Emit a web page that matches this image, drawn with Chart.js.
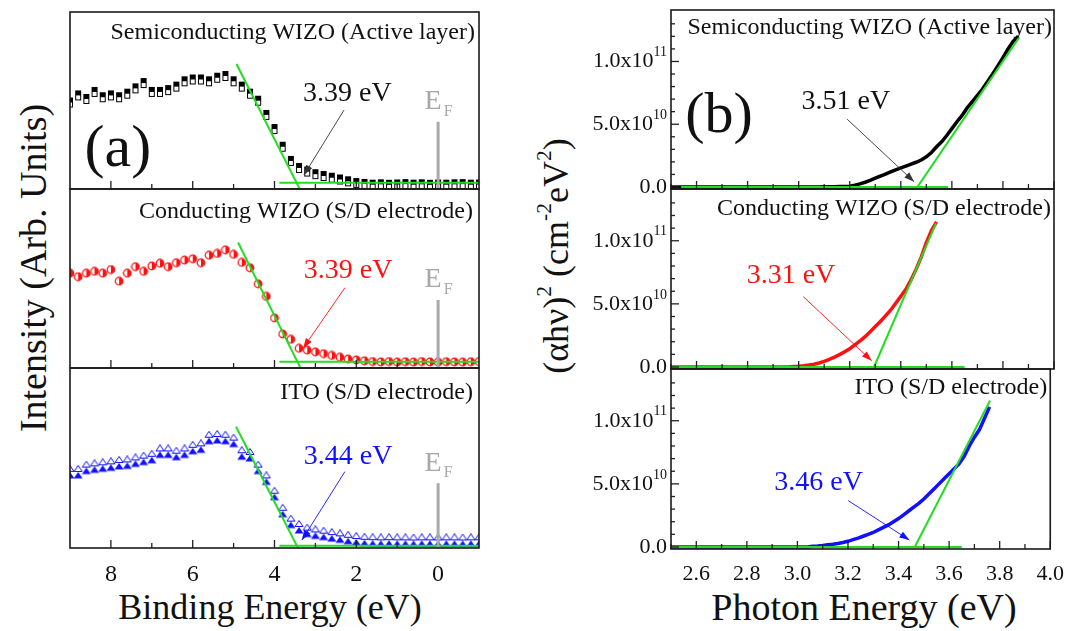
<!DOCTYPE html>
<html>
<head>
<meta charset="utf-8">
<script src="https://cdn.jsdelivr.net/npm/chart.js@4.4.1/dist/chart.umd.min.js"></script>
<style>
  body { margin: 0; background: #fff; font-family: "Liberation Serif", "Times New Roman", serif; }
  #fig { position: relative; width: 1071px; height: 631px; overflow: hidden; }
  .pane { position: absolute; }
  .lbl { position: absolute; white-space: nowrap; color: #111; transform: translate(-50%, -50%); line-height: 1; }
  .rot { transform: translate(-50%, -50%) rotate(-90deg); }
  .lbl sup { font-size: 60%; vertical-align: 0.75em; }
</style>
</head>
<body>
<div id="fig">
  <div class="lbl rot" style="left:33px;top:268px;font-size:38px">Intensity (Arb. Units)</div>
  <div class="lbl rot" style="left:554px;top:256px;font-size:36px">(αhν)<sup>2</sup> (cm<sup>-2</sup>eV<sup>2</sup>)</div>
  <div class="lbl" style="left:270px;top:607px;font-size:36px">Binding Energy (eV)</div>
  <div class="lbl" style="left:864px;top:607px;font-size:38px">Photon Energy (eV)</div>
</div>
<script>
// ---- data (a): UPS valence band, binding energy in eV, intensity arb. units ----
const bindingEnergy = [9.0, 8.8, 8.6, 8.4, 8.2, 8.0, 7.8, 7.6, 7.4, 7.2, 7.0, 6.8, 6.6, 6.4, 6.2, 6.0, 5.8, 5.6, 5.4, 5.2,
  5.0, 4.8, 4.6, 4.4, 4.2, 4.0, 3.8, 3.6, 3.4, 3.2, 3.0, 2.8, 2.6, 2.4, 2.2, 2.0, 1.8, 1.6, 1.4, 1.2,
  1.0, 0.8, 0.6, 0.4, 0.2, 0.0, -0.2, -0.4, -0.6, -0.8, -1.0];
const semiUps = [50, 54, 52, 56, 53, 54, 53, 55, 58, 61, 56, 56, 57, 59, 62, 63, 63, 62, 64, 65,
  62, 59, 55, 51, 43, 35, 25, 17, 13, 11, 9.5, 8.5, 7.5, 6.5, 5.5, 4.5, 4.0, 3.6, 3.8, 3.5,
  3.7, 3.9, 3.6, 3.8, 3.5, 3.7, 3.6, 3.8, 3.9, 3.6, 3.7];
const condUps = [53, 51, 53, 54, 53, 55, 48.5, 53, 56.6, 54, 57, 58.5, 56.6, 58.8, 60.3, 61, 58.8, 63, 64, 66,
  63.5, 59, 56, 47, 40, 28, 19, 16, 11, 10, 9, 8, 7, 6, 5, 4.5, 4, 3.6, 3.4, 3.6,
  3.3, 3.5, 3.3, 3.6, 3.4, 3.3, 3.5, 3.4, 3.3, 3.5, 3.6];
const itoUps = [40.6, 40.6, 43, 43.7, 44.3, 44.8, 45.6, 45.9, 47, 48, 49, 52, 52, 50.7, 52, 54, 54.8, 59.6, 60, 59.6,
  58, 51, 50, 43, 37, 28.5, 19, 13, 10, 8, 7, 6.3, 5.5, 4.8, 4, 3.3, 2.9, 2.7, 2.6, 2.7,
  2.6, 2.6, 2.5, 2.6, 2.6, 2.5, 2.6, 2.6, 2.5, 2.6, 2.6];
const semiUpsEdge = [[4.93, 70.6], [3.37, -0.6]];
const semiUpsBase = [[3.88, 3.6], [-1.0, 3.6]];
const condUpsEdge = [[4.89, 70.1], [3.36, -0.2]];
const condUpsBase = [[3.88, 3.5], [-1.0, 3.5]];
const itoUpsEdge = [[4.94, 67.4], [3.38, -2.0]];
const itoUpsBase = [[3.88, 1.3], [-1.0, 1.3]];

// ---- data (b): (alpha h nu)^2 in units of 1e10 cm^-2 eV^2 ----
const photonEnergy = [2.50, 2.52, 2.54, 2.56, 2.58, 2.60, 2.62, 2.64, 2.66, 2.68, 2.70, 2.72, 2.74, 2.76, 2.78,
  2.80, 2.82, 2.84, 2.86, 2.88, 2.90, 2.92, 2.94, 2.96, 2.98, 3.00, 3.02, 3.04, 3.06, 3.08,
  3.10, 3.12, 3.14, 3.16, 3.18, 3.20, 3.22, 3.24, 3.26, 3.28, 3.30, 3.32, 3.34, 3.36, 3.38,
  3.40, 3.42, 3.44, 3.46, 3.48, 3.50, 3.52, 3.54, 3.56, 3.58, 3.60, 3.62, 3.64, 3.66, 3.68,
  3.70, 3.72, 3.74, 3.76, 3.78, 3.80, 3.82, 3.84, 3.86];
const semiAbs = [0, 0, 0, 0, 0, 0, 0, 0, 0, 0, 0, 0, 0, 0, 0, 0, 0, 0, 0, 0, 0, 0, 0, 0, 0, 0, 0, 0, 0, 0,
  0.01, 0.01, 0.02, 0.03, 0.04, 0.06, 0.15, 0.25, 0.38, 0.52, 0.7, 0.87, 1.03, 1.2, 1.37,
  1.52, 1.67, 1.83, 1.97, 2.15, 2.4, 2.75, 3.2, 3.6, 4.1, 4.65, 5.2, 5.7, 6.3, 6.8,
  7.3, 7.8, 8.4, 9.0, 9.65, 10.3, 11.0, 11.6, 12.0];
const condAbs = [0, 0, 0, 0, 0, 0, 0, 0, 0, 0, 0, 0, 0, 0, 0, 0, 0, 0, 0, 0, 0, 0, 0, 0,
  0.03, 0.06, 0.1, 0.15, 0.22, 0.32, 0.45, 0.6, 0.78, 0.98, 1.2, 1.45, 1.75, 2.06, 2.4, 2.8,
  3.2, 3.6, 4.05, 4.5, 5.05, 5.6, 6.15, 6.9, 7.75, 8.7, 9.85, 10.8, 11.5];
const itoAbs = [0, 0, 0, 0, 0, 0, 0, 0, 0, 0, 0, 0, 0, 0, 0, 0, 0, 0, 0, 0, 0, 0, 0, 0, 0, 0, 0, 0,
  0.05, 0.08, 0.12, 0.17, 0.22, 0.28, 0.35, 0.45, 0.58, 0.7, 0.85, 1.0, 1.15, 1.35, 1.55, 1.75,
  2.0, 2.25, 2.55, 2.85, 3.15, 3.45, 3.8, 4.2, 4.6, 5.0, 5.4, 5.8, 6.2, 6.6, 7.2, 8.0,
  8.7, 9.3, 10.2, 11.1];
const semiAbsEdge = [[3.455, -0.3], [3.863, 11.9]];
const semiAbsBase = [[2.54, 0], [3.585, 0]];
const condAbsEdge = [[3.295, 0], [3.538, 11.4]];
const condAbsBase = [[2.50, 0], [3.65, 0]];
const itoAbsEdge = [[3.464, 0], [3.762, 11.6]];
const itoAbsBase = [[2.50, 0], [3.65, 0]];

// ---- labels and ticks ----
const sampleNames = ['Semiconducting WIZO (Active layer)', 'Conducting WIZO (S/D electrode)', 'ITO (S/D electrode)'];
const gapUps = ['3.39 eV', '3.39 eV', '3.44 eV'];
const gapAbs = ['3.51 eV', '3.31 eV', '3.46 eV'];
const beTicks = [8, 6, 4, 2, 0];
const beMinor = [7, 5, 3, 1];
const peTicks = [2.6, 2.8, 3.0, 3.2, 3.4, 3.6, 3.8, 4.0];
const peMinor = [2.5, 2.7, 2.9, 3.1, 3.3, 3.5, 3.7, 3.9];
const absTicks = [0, 5, 10];
const absTickBase = ['0.0', '5.0x10', '1.0x10'];
const absTickExp = ['', '10', '11'];
const absMinor = [1, 2, 3, 4, 6, 7, 8, 9, 11, 12, 13];

const SERIF = '"Liberation Serif", "Times New Roman", serif';
const GREEN = '#22dd22';
const RED = '#ff1010';
const BLUE = '#1010ff';
const GREY = '#333';
Chart.defaults.font.family = SERIF;
Chart.defaults.color = '#111';

// combined markers: filled + open symbol pairs
function glyph(w, h, draw) {
  const c = document.createElement('canvas');
  c.width = w; c.height = h;
  draw(c.getContext('2d'));
  return c;
}
const squareGlyph = glyph(8, 18, g => {
  g.fillStyle = '#fff'; g.fillRect(1.5, 10.5, 5, 5);
  g.strokeStyle = '#000'; g.lineWidth = 1; g.strokeRect(1.5, 10.5, 5, 5);
  g.fillStyle = '#000'; g.fillRect(1, 6, 6, 5);
});
const circleGlyph = glyph(10, 10, g => {
  g.beginPath(); g.arc(5, 5, 3.8, 0, Math.PI * 2);
  g.fillStyle = '#fff'; g.fill();
  g.strokeStyle = RED; g.lineWidth = 1.2; g.stroke();
  g.beginPath(); g.arc(5, 5, 3.8, -Math.PI / 2, Math.PI / 2); g.closePath();
  g.fillStyle = RED; g.fill();
});
const triangleGlyph = glyph(10, 20, g => {
  g.strokeStyle = BLUE; g.lineWidth = 1;
  g.beginPath(); g.moveTo(5, 0.5); g.lineTo(9, 6.5); g.lineTo(1, 6.5); g.closePath();
  g.fillStyle = '#fff'; g.fill(); g.stroke();
  g.fillStyle = BLUE;
  g.beginPath(); g.moveTo(5, 7); g.lineTo(9.5, 13.5); g.lineTo(0.5, 13.5); g.closePath(); g.fill();
});

// frame, inner ticks, y labels with exponents and annotations
const overlayPlugin = {
  id: 'overlay',
  afterDatasetsDraw(chart, args, o) {
    const ctx = chart.ctx, a = chart.chartArea;
    const px = v => chart.scales.x.getPixelForValue(v);
    const py = v => chart.scales.y.getPixelForValue(v);
    ctx.save();
    const seg = (x1, y1, x2, y2) => { ctx.beginPath(); ctx.moveTo(x1, y1); ctx.lineTo(x2, y2); ctx.stroke(); };
    ctx.strokeStyle = '#222'; ctx.lineWidth = 1.3;
    (o.xMajor || []).forEach(v => seg(px(v), a.bottom, px(v), a.bottom - 8));
    (o.xMinor || []).forEach(v => seg(px(v), a.bottom, px(v), a.bottom - 5));
    (o.yMajor || []).forEach(v => seg(a.left, py(v), a.left + 8, py(v)));
    (o.yMinor || []).forEach(v => seg(a.left, py(v), a.left + 4, py(v)));

    if (o.yLabels) {
      ctx.fillStyle = '#111'; ctx.textBaseline = 'middle'; ctx.textAlign = 'right';
      o.yLabels.ticks.forEach((v, i) => {
        const y = py(v), exp = o.yLabels.exp[i];
        let x = a.left - 4;
        if (exp) {
          ctx.font = '14px ' + SERIF;
          ctx.fillText(exp, x, y - 9);
          x -= ctx.measureText(exp).width;
        }
        ctx.font = '22px ' + SERIF;
        ctx.fillText(o.yLabels.base[i], x, y);
      });
    }
    if (o.ef) {
      const x = px(o.ef.x), top = py(o.ef.top);
      ctx.strokeStyle = '#aaa'; ctx.lineWidth = 3;
      seg(x, a.bottom, x, top);
      ctx.fillStyle = '#a8a8a8'; ctx.textAlign = 'center'; ctx.textBaseline = 'middle';
      ctx.font = '28px ' + SERIF; ctx.fillText('E', x - 5, top - 20);
      ctx.font = '16px ' + SERIF; ctx.fillText('F', x + 10, top - 10);
    }
    (o.arrows || []).forEach(ar => {
      const x1 = px(ar.x1), y1 = py(ar.y1), x2 = px(ar.x2), y2 = py(ar.y2);
      ctx.strokeStyle = ar.color; ctx.fillStyle = ar.color; ctx.lineWidth = 0.9;
      seg(x1, y1, x2, y2);
      const ang = Math.atan2(y2 - y1, x2 - x1), L = 10, W = 3.5;
      ctx.beginPath();
      ctx.moveTo(x2, y2);
      ctx.lineTo(x2 - L * Math.cos(ang) + W * Math.sin(ang), y2 - L * Math.sin(ang) - W * Math.cos(ang));
      ctx.lineTo(x2 - L * Math.cos(ang) - W * Math.sin(ang), y2 - L * Math.sin(ang) + W * Math.cos(ang));
      ctx.closePath(); ctx.fill();
    });
    (o.texts || []).forEach(t => {
      ctx.fillStyle = t.color; ctx.font = t.size + 'px ' + SERIF;
      ctx.textAlign = 'center'; ctx.textBaseline = 'middle';
      ctx.fillText(t.t, px(t.x), py(t.y));
    });
    if (o.title) {
      ctx.fillStyle = '#111'; ctx.font = o.title.size + 'px ' + SERIF;
      ctx.textAlign = 'right'; ctx.textBaseline = 'middle';
      ctx.fillText(o.title.t, a.right - o.title.dx, a.top + o.title.dy);
    }
    ctx.strokeStyle = '#1a1a1a'; ctx.lineWidth = 1.6;
    ctx.strokeRect(a.left, a.top, a.right - a.left, a.bottom - a.top);
    ctx.restore();
  }
};

const zip = (xs, ys) => ys.map((v, i) => ({ x: xs[i], y: v }));
const pts = arr => arr.map(([x, y]) => ({ x, y }));
const fit = arr => ({ data: pts(arr), showLine: true, borderColor: GREEN, borderWidth: 2, pointRadius: 0, order: 0 });

const PAD = { l: 2, t: 14, r: 22, b: 14 };
function buildPanel(p) {
  const yW = p.yW || 0, xH = p.xH || 0;
  const [l, t, r, b] = p.box;
  const div = document.createElement('div');
  div.className = 'pane';
  div.style.left = (l - yW - PAD.l) + 'px';
  div.style.top = (t - PAD.t) + 'px';
  div.style.width = (r - l + yW + PAD.l + PAD.r) + 'px';
  div.style.height = (b - t + PAD.t + (xH || PAD.b)) + 'px';
  const canvas = document.createElement('canvas');
  div.appendChild(canvas);
  document.getElementById('fig').appendChild(div);

  new Chart(canvas, {
    type: 'scatter',
    data: { datasets: p.datasets },
    options: {
      responsive: true, maintainAspectRatio: false, animation: false,
      layout: { padding: { left: PAD.l, top: PAD.t, right: PAD.r, bottom: xH ? 0 : PAD.b } },
      plugins: { legend: { display: false }, tooltip: { enabled: false }, overlay: p.overlay },
      scales: {
        x: {
          type: 'linear', min: p.x.min, max: p.x.max, reverse: !!p.x.reverse,
          display: xH > 0,
          grid: { display: false, drawTicks: false }, border: { display: false },
          ticks: { padding: 12, font: { size: p.x.fontSize }, color: '#111', callback: p.x.label, maxRotation: 0 },
          afterBuildTicks: s => { s.ticks = p.x.ticks.map(v => ({ value: v })); },
          afterFit: s => { s.height = xH; }
        },
        y: {
          type: 'linear', min: p.y.min, max: p.y.max,
          display: yW > 0,
          grid: { display: false, drawTicks: false }, border: { display: false },
          ticks: { display: false },
          afterBuildTicks: s => { s.ticks = p.y.ticks.map(v => ({ value: v })); },
          afterFit: s => { s.width = yW; }
        }
      }
    },
    plugins: [overlayPlugin]
  });
}

// ---- panel (a) ----
const beAxis = { min: -1, max: 9, reverse: true, ticks: beTicks, label: v => String(v), fontSize: 24 };
const upsY = { min: 0, max: 100, ticks: [] };
const upsSets = [
  { name: sampleNames[0], data: semiUps, glyph: squareGlyph, edge: semiUpsEdge, base: semiUpsBase, box: [67, 12, 479, 189], dy: 21, dx: 4,
    gap: { t: gapUps[0], x: 2.22, y: 54, color: '#111' }, arrow: { x1: 2.30, y1: 44.6, x2: 3.28, y2: 7.9, color: GREY }, efTop: 38 },
  { name: sampleNames[1], data: condUps, glyph: circleGlyph, edge: condUpsEdge, base: condUpsBase, box: [67, 189, 479, 368], dy: 23, dx: 6,
    gap: { t: gapUps[1], x: 2.2, y: 54.5, color: RED }, arrow: { x1: 2.28, y1: 44.8, x2: 3.30, y2: 11.1, color: RED }, efTop: 38 },
  { name: sampleNames[2], data: itoUps, glyph: triangleGlyph, edge: itoUpsEdge, base: itoUpsBase, box: [67, 368, 479, 548], dy: 25, dx: 6,
    gap: { t: gapUps[2], x: 2.2, y: 51, color: BLUE }, arrow: { x1: 2.28, y1: 42.4, x2: 3.33, y2: 4.4, color: BLUE }, efTop: 36 }
];
upsSets.forEach((s, i) => {
  const texts = [Object.assign({ size: 28 }, s.gap)];
  if (i === 0) texts.push({ t: '(a)', x: 7.83, y: 22, color: '#111', size: 60 });
  buildPanel({
    box: s.box, xH: i === 2 ? 45 : 0, yW: 0,
    x: beAxis, y: upsY,
    datasets: [
      fit(s.edge), fit(s.base),
      { data: zip(bindingEnergy, s.data), pointStyle: s.glyph, pointRadius: 4, order: 1 }
    ],
    overlay: {
      xMajor: beTicks, xMinor: beMinor,
      title: { t: s.name, size: 24, dy: s.dy, dx: s.dx },
      texts, arrows: [s.arrow], ef: { x: 0, top: s.efTop }
    }
  });
});

// ---- panel (b) ----
const peAxis = { min: 2.5, max: 4.0, ticks: peTicks, label: v => v.toFixed(1), fontSize: 22 };
const absY = { min: -0.16, max: 14.1, ticks: absTicks };
const absSets = [
  { name: sampleNames[0], data: semiAbs, color: '#000', edge: semiAbsEdge, base: semiAbsBase, box: [671, 10, 1054, 189], dy: 18, dx: 2,
    gap: { t: gapAbs[0], x: 3.185, y: 6.8, color: '#111' }, arrow: { x1: 3.19, y1: 5.4, x2: 3.452, y2: 0.42, color: GREY } },
  { name: sampleNames[1], data: condAbs, color: RED, edge: condAbsEdge, base: condAbsBase, box: [671, 189, 1054, 369], dy: 20, dx: 3,
    gap: { t: gapAbs[1], x: 2.97, y: 7.2, color: RED }, arrow: { x1: 3.018, y1: 5.57, x2: 3.286, y2: 0.49, color: RED } },
  { name: sampleNames[2], data: itoAbs, color: BLUE, edge: itoAbsEdge, base: itoAbsBase, box: [671, 369, 1054, 549], dy: 19, dx: 3,
    gap: { t: gapAbs[2], x: 3.084, y: 5.1, color: BLUE }, arrow: { x1: 3.201, y1: 3.67, x2: 3.443, y2: 0.55, color: BLUE } }
];
absSets.forEach((s, i) => {
  const texts = [Object.assign({ size: 28 }, s.gap)];
  if (i === 0) texts.push({ t: '(b)', x: 2.688, y: 5.63, color: '#111', size: 58 });
  buildPanel({
    box: s.box, xH: i === 2 ? 45 : 0, yW: 110,
    x: peAxis, y: absY,
    datasets: [
      fit(s.edge), fit(s.base),
      { data: zip(photonEnergy, s.data), showLine: true, borderColor: s.color, borderWidth: 3.5, pointRadius: 0, order: 1 }
    ],
    overlay: {
      xMajor: peTicks, xMinor: peMinor, yMajor: absTicks, yMinor: absMinor,
      yLabels: { ticks: absTicks, base: absTickBase, exp: absTickExp },
      title: { t: s.name, size: 24, dy: s.dy, dx: s.dx },
      texts, arrows: [s.arrow]
    }
  });
});
</script>
</body>
</html>
